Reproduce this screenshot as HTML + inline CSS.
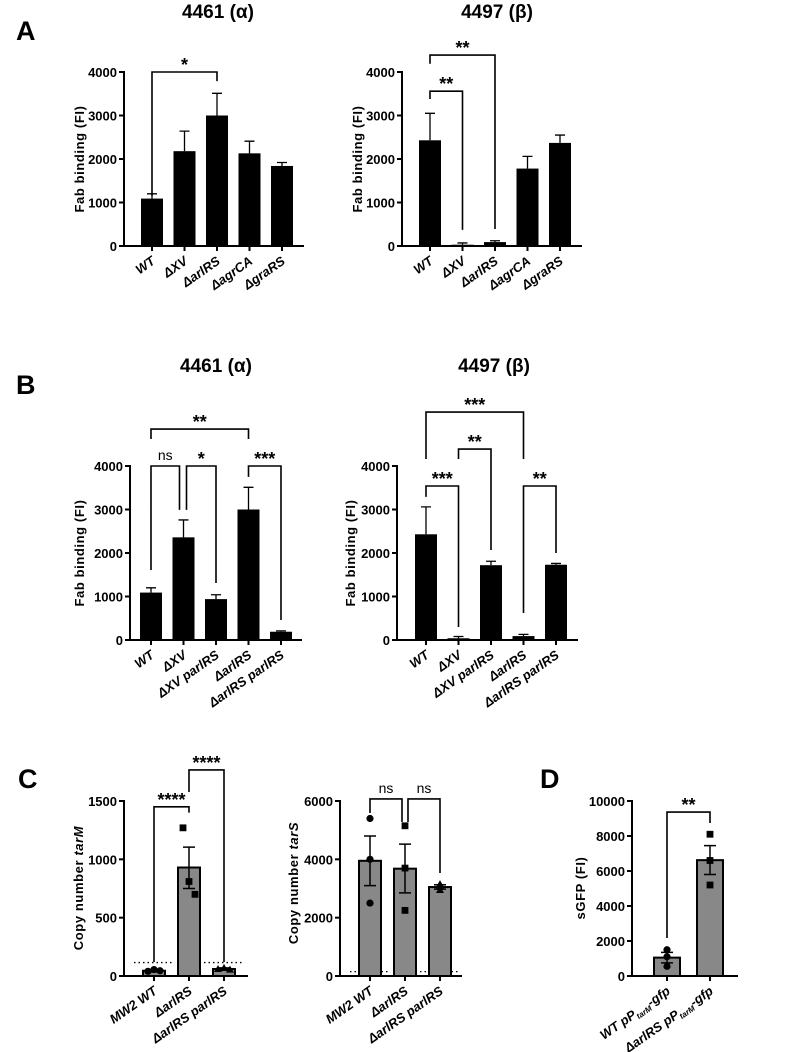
<!DOCTYPE html>
<html><head><meta charset="utf-8"><style>
body{margin:0;background:#fff}
svg{display:block;font-family:"Liberation Sans",Arial,sans-serif}
.tk{font-size:13px;font-weight:bold;font-family:"Liberation Sans Narrow","Liberation Sans",sans-serif}
.xl{font-size:13px;font-weight:bold;font-style:italic;font-family:"Liberation Sans Narrow","Liberation Sans",sans-serif}
.yt{font-size:13px;font-weight:bold;letter-spacing:0.6px}
.ttl{font-size:19px;font-weight:bold;font-family:"Liberation Sans Narrow","Liberation Sans",sans-serif}
.let{font-size:27px;font-weight:bold;font-family:"Liberation Sans Narrow","Liberation Sans",sans-serif}
.st{font-size:18px;font-weight:bold}
.ns{font-size:14px;font-family:"Liberation Sans Narrow","Liberation Sans",sans-serif}
</style></head><body>
<svg id="fig" width="787" height="1052" viewBox="0 0 787 1052" xmlns="http://www.w3.org/2000/svg">
<text class="let" x="16" y="40">A</text>
<text class="let" x="16" y="394">B</text>
<text class="let" x="18" y="788">C</text>
<text class="let" x="540" y="788">D</text>
<text class="ttl" x="218" y="18" text-anchor="middle">4461 (α)</text>
<text class="ttl" x="497" y="18" text-anchor="middle">4497 (β)</text>
<text class="ttl" x="216" y="372" text-anchor="middle">4461 (α)</text>
<text class="ttl" x="494" y="372" text-anchor="middle">4497 (β)</text>
</svg>
<script>
// ---------- data ----------
const catsA = ["WT","ΔXV","ΔarlRS","ΔagrCA","ΔgraRS"];
const valsA1 = [1090,2180,3000,2130,1840];
const errA1 = [1200,2640,3510,2410,1920];
const valsA2 = [2430,30,90,1780,2370];
const errA2 = [3050,70,120,2060,2550];
const catsB = ["WT","ΔXV","ΔXV parlRS","ΔarlRS","ΔarlRS parlRS"];
const valsB1 = [1090,2360,940,3000,190];
const errB1 = [1200,2760,1040,3510,210];
const valsB2 = [2430,40,1720,90,1730];
const errB2 = [3060,80,1810,130,1760];
const catsC = ["MW2 WT","ΔarlRS","ΔarlRS parlRS"];
const valsC1 = [45,930,60];
const semLoC1 = [35,750,50];
const semHiC1 = [55,1105,70];
const ptsC1 = [[40,55,45],[1270,810,700],[60,70,55]];
const valsC2 = [3950,3680,3050];
const semLoC2 = [3100,2850,2980];
const semHiC2 = [4800,4520,3130];
const ptsC2 = [[5400,4000,2500],[5150,3700,2250],[3150,3100,2950]];
const valsD = [1050,6620];
const semLoD = [750,5800];
const semHiD = [1350,7450];
const ptsD = [[1500,1100,550],[8100,6600,5200]];
const ticks4000 = [0,1000,2000,3000,4000];
const ticks1500 = [0,500,1000,1500];
const ticks6000 = [0,2000,4000,6000];
const ticks10000 = [0,2000,4000,6000,8000,10000];
// brackets: [i0, i1, topValue, leg0Value, leg1Value, label, offset0, offset1]
const sigA1 = [[0,2,4000,1160,3790,"*",0,0]];
const sigA2 = [[0,1,3560,3380,370,"**",0,0],[0,2,4390,4190,390,"**",0,0]];
const sigB1 = [[0,3,4850,4620,4620,"**",0,0],[0,1,4000,1610,2990,"ns",0,-4],[1,2,4000,2990,1310,"*",3,0],[3,4,4000,3750,460,"***",0,0]];
const sigB2 = [[0,3,5240,4160,4160,"***",0,0],[1,2,4390,4160,2070,"**",0,0],[0,1,3540,3290,300,"***",0,0],[3,4,3540,620,2000,"**",0,0]];
const sigC1 = [[0,1,1450,120,1400,"****",0,0],[1,2,1766,1577,120,"****",0,0]];
const sigC2 = [[0,1,6070,5590,5280,"ns",0,-3],[1,2,6070,5280,3530,"ns",3,0]];
const sigD = [[0,1,9370,2170,8740,"**",0,0]];
const shapesC = ["circle","square","triangle"];

// ---------- drawing ----------
const NS="http://www.w3.org/2000/svg";
const svg=document.getElementById('fig');
function mk(tag,attrs,parent){const e=document.createElementNS(NS,tag);for(const k in attrs)e.setAttribute(k,attrs[k]);(parent||svg).appendChild(e);return e;}

function panel(p){
  const g=mk('g',{});
  
  
  const y=v=>p.y0-(v/p.max)*(p.y0-p.yTop);
  const x=i=>p.first+i*p.step;
  p.ticks.forEach(t=>{
    const l=mk('line',{x1:p.x0-5,x2:p.x0,y1:y(t),y2:y(t),stroke:'#000','stroke-width':2},g);
    
    
    const tx=mk('text',{x:p.x0-7,y:y(t)+5,'text-anchor':'end',class:'tk'},g);
    
    
    tx.textContent=t;
  });
  const ya=mk('line',{x1:p.x0,x2:p.x0,y1:p.yTop-1,y2:p.y0+1,stroke:'#000','stroke-width':2},g);
  
  
  const xa=mk('line',{x1:p.x0-1,x2:p.x1,y1:p.y0,y2:p.y0,stroke:'#000','stroke-width':2},g);
  
  
  const yt=mk('text',{class:'yt','text-anchor':'middle',transform:`translate(${p.ytx},${p.yty}) rotate(-90)`},g);
  
  
  yt.innerHTML=p.ytitle;
  if(p.dotted!==undefined){
    p.dotIdx.forEach(i=>{
      const d=mk('line',{x1:x(i)-20,x2:x(i)+20,y1:y(p.dotted),y2:y(p.dotted),stroke:'#000','stroke-width':1.3,'stroke-dasharray':'1.5,3'},g);
      
      
    });
  }
  p.vals.forEach((v,i)=>{
    const cx=x(i);
    if(p.err){
      const e=mk('path',{d:`M${cx},${y(v)}V${y(p.err[i])}M${cx-5},${y(p.err[i])}H${cx+5}`,stroke:'#000','stroke-width':1.3,fill:'none'},g);
      
      
    }
    const b=mk('rect',{x:cx-p.bw/2,y:y(v),width:p.bw,height:p.y0-y(v),fill:p.fill,stroke:'#000','stroke-width':p.fill==='#000'?0:2},g);
    
    
    if(p.lo){
      const e=mk('path',{d:`M${cx},${y(p.lo[i])}V${y(p.hi[i])}M${cx-6},${y(p.lo[i])}H${cx+6}M${cx-6},${y(p.hi[i])}H${cx+6}`,stroke:'#000','stroke-width':1.5,fill:'none'},g);
      
      
    }
    if(p.pts){
      const sh=p.shapes[i];
      p.pts[i].forEach((pv,k)=>{
        const px=cx+(p.jit?p.jit[k]:0), py=y(pv);
        let m;
        if(sh==='circle') m=mk('circle',{cx:px,cy:py,r:3.6,fill:'#000'},g);
        else if(sh==='square') m=mk('rect',{x:px-3.4,y:py-3.4,width:6.8,height:6.8,fill:'#000'},g);
        else m=mk('polygon',{points:`${px},${py-4} ${px-4},${py+3} ${px+4},${py+3}`,fill:'#000'},g);
        
        
      });
    }
    const tk=mk('line',{x1:cx,x2:cx,y1:p.y0,y2:p.y0+5,stroke:'#000','stroke-width':2},g);
    
    
    const lab=mk('text',{class:'xl','text-anchor':'end',transform:`translate(${cx+4},${p.y0+17}) rotate(-35)`},g);
    
    
    lab.innerHTML=p.labels[i];
  });
  p.sig.forEach(s=>{
    const [a,b,top,l0,l1,txt,o0,o1]=s;
    const xa=x(a)+o0, xb=x(b)+o1, yt2=y(top);
    const br=mk('path',{d:`M${xa},${y(l0)}V${yt2}H${xb}V${y(l1)}`,stroke:'#000','stroke-width':1.6,fill:'none'},g);
    
    
    const t=mk('text',{x:(xa+xb)/2,y:yt2-(txt==='ns'?6:1),'text-anchor':'middle',class:txt==='ns'?'ns':'st'},g);
    
    
    t.textContent=txt;
  });
}
const labD=[`WT pP<tspan font-size="8" dy="3">tarM</tspan><tspan dy="-3">-gfp</tspan>`,`ΔarlRS pP<tspan font-size="8" dy="3">tarM</tspan><tspan dy="-3">-gfp</tspan>`];

panel({name:'chart-a-4461',x0:124,x1:304,y0:246,yTop:72,max:4000,ticks:ticks4000,first:152,step:32.5,bw:22,fill:'#000',vals:valsA1,err:errA1,labels:catsA,sig:sigA1,ytitle:'Fab binding (FI)',ytx:84,yty:159});
panel({name:'chart-a-4497',x0:402,x1:582,y0:246,yTop:72,max:4000,ticks:ticks4000,first:430,step:32.5,bw:22,fill:'#000',vals:valsA2,err:errA2,labels:catsA,sig:sigA2,ytitle:'Fab binding (FI)',ytx:362,yty:159});
panel({name:'chart-b-4461',x0:130,x1:302,y0:640,yTop:466,max:4000,ticks:ticks4000,first:151,step:32.5,bw:22,fill:'#000',vals:valsB1,err:errB1,labels:catsB,sig:sigB1,ytitle:'Fab binding (FI)',ytx:84,yty:553});
panel({name:'chart-b-4497',x0:397,x1:578,y0:640,yTop:466,max:4000,ticks:ticks4000,first:426,step:32.5,bw:22,fill:'#000',vals:valsB2,err:errB2,labels:catsB,sig:sigB2,ytitle:'Fab binding (FI)',ytx:355,yty:553});
panel({name:'chart-c-tarm',x0:124,x1:248,y0:976,yTop:801,max:1500,ticks:ticks1500,first:154,step:35,bw:22,fill:'#888',vals:valsC1,lo:semLoC1,hi:semHiC1,pts:ptsC1,shapes:shapesC,jit:[-6,0,6],labels:catsC,sig:sigC1,dotted:115,dotIdx:[0,2],ytitle:'Copy number <tspan font-style="italic">tarM</tspan>',ytx:83,yty:888});
panel({name:'chart-c-tars',x0:340,x1:462,y0:976,yTop:801,max:6000,ticks:ticks6000,first:370,step:35,bw:22,fill:'#888',vals:valsC2,lo:semLoC2,hi:semHiC2,pts:ptsC2,shapes:shapesC,jit:[0,0,0],labels:catsC,sig:sigC2,dotted:150,dotIdx:[0,2],ytitle:'Copy number <tspan font-style="italic">tarS</tspan>',ytx:298,yty:883});
panel({name:'chart-d-sgfp',x0:632,x1:738,y0:976,yTop:801,max:10000,ticks:ticks10000,first:667,step:43,bw:26,fill:'#888',vals:valsD,lo:semLoD,hi:semHiD,pts:ptsD,shapes:['circle','square'],jit:[0,0,0],labels:labD,sig:sigD,ytitle:'sGFP (FI)',ytx:585,yty:888});
</script>
</body></html>
